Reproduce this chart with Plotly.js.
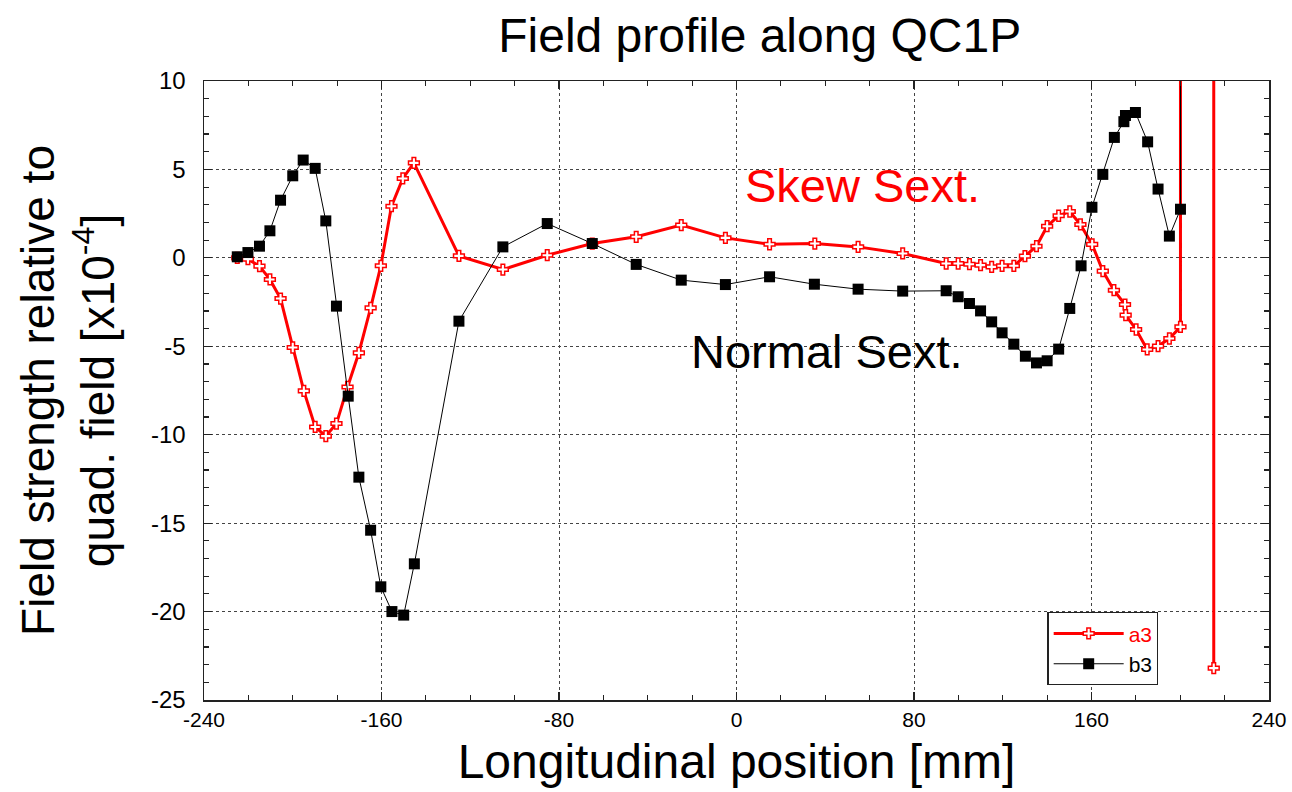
<!DOCTYPE html>
<html>
<head>
<meta charset="utf-8">
<script src="https://cdn.plot.ly/plotly-3.0.1.min.js"></script>
<style>html,body{margin:0;padding:0;background:#fff;}#chart{width:1292px;height:792px;}</style>
</head>
<body>
<div id="chart"></div>
<script>
// a3 : skew sextupole component
const a3X = [-225, -220.2, -215, -210.3, -205.5, -200, -195, -189.9, -185.1, -180.3, -175.3, -170.2, -164.9, -160.3, -155.5, -150.4, -145.4, -125.1, -105.3, -85.3, -65, -45.2, -24.9, -5, 14.9, 35.3, 54.8, 74.9, 94.5, 99.9, 105, 110, 115, 119.7, 125, 130, 135.2, 140, 145.2, 150.2, 155, 160.3, 165.1, 170.1, 175.1, 175.4, 180.1, 185.1, 190, 195.1, 200.1, 200.1, 215.1, 215.1];
const a3Y = [0.0, -0.07, -0.47, -1.22, -2.3, -5.07, -7.52, -9.56, -10.08, -9.37, -7.3, -5.37, -2.83, -0.45, 2.92, 4.49, 5.37, 0.11, -0.66, 0.15, 0.81, 1.19, 1.85, 1.13, 0.77, 0.81, 0.62, 0.25, -0.32, -0.32, -0.36, -0.41, -0.51, -0.45, -0.45, 0.1, 0.66, 1.79, 2.38, 2.62, 1.89, 0.76, -0.75, -1.83, -2.64, -3.24, -4.05, -5.18, -4.99, -4.56, -3.9, 100, 100, -23.2];
// b3 : normal sextupole component
const b3X = [-225, -220.2, -215, -210.3, -205.5, -200, -195.3, -189.9, -185.1, -180.3, -175, -170.2, -164.9, -160.3, -155.3, -150, -145.2, -125.1, -105.3, -85.3, -65, -45.2, -24.9, -5, 14.9, 35.1, 54.8, 74.9, 94.5, 99.9, 105, 110, 115, 119.7, 125, 130.2, 135.2, 140, 145.2, 150.2, 155.3, 160.2, 165.1, 170.3, 174.6, 175.3, 179.8, 185.3, 190, 195.1, 200.1, 200.3];
const b3Y = [0.06, 0.3, 0.66, 1.53, 3.26, 4.64, 5.53, 5.06, 2.09, -2.73, -7.82, -12.4, -15.4, -18.6, -20.0, -20.2, -17.3, -3.58, 0.62, 1.94, 0.81, -0.37, -1.26, -1.51, -1.07, -1.49, -1.77, -1.88, -1.86, -2.2, -2.58, -3.0, -3.62, -4.24, -4.88, -5.56, -5.94, -5.82, -5.16, -2.86, -0.45, 2.86, 4.72, 6.81, 7.7, 8.05, 8.22, 6.56, 3.89, 1.23, 2.75, 100];

const seriesNames = ['a3', 'b3'];
const xTicks = [-240, -160, -80, 0, 80, 160, 240];
const yTicks = [-25, -20, -15, -10, -5, 0, 5, 10];
const labels = ['Skew Sext.', 'Normal Sext.'];
const labelX = [57, 41];
const labelY = [4.1, -5.3];

const FONT = 'Liberation Sans, Arial, Helvetica, sans-serif';

const traces = [
  {
    x: a3X, y: a3Y, name: seriesNames[0], type: 'scatter', mode: 'lines+markers',
    line: {color: '#ff0000', width: 3},
    marker: {symbol: 'cross', size: 9, color: '#ffffff', line: {color: '#ff0000', width: 1.5}}
  },
  {
    x: b3X, y: b3Y, name: seriesNames[1], type: 'scatter', mode: 'lines+markers',
    line: {color: '#000000', width: 1},
    marker: {symbol: 'square', size: 11, color: '#000000', line: {color: '#000000', width: 0}}
  }
];

const axisCommon = {
  showline: true, linecolor: '#222', linewidth: 1.5, mirror: 'allticks',
  ticks: 'inside', ticklen: 8, tickwidth: 1.2, tickcolor: '#222',
  showgrid: true, gridcolor: '#444', gridwidth: 1, griddash: 'dot',
  zeroline: false
};

const layout = {
  width: 1292, height: 792,
  paper_bgcolor: '#ffffff', plot_bgcolor: '#ffffff',
  margin: {l: 204, r: 23, t: 81, b: 92},
  font: {family: FONT, color: '#000'},
  title: {text: 'Field profile along QC1P', font: {family: FONT, size: 48, color: '#000'}, x: 0.588, xanchor: 'center', y: 0.955, yanchor: 'middle'},
  xaxis: Object.assign({}, axisCommon, {
    range: [-240, 240], tickvals: xTicks, ticktext: xTicks.map(String),
    tickfont: {family: FONT, size: 21, color: '#000'},
    minor: {dtick: 20, ticks: 'inside', ticklen: 5, tickcolor: '#222', showgrid: false},
    title: {text: 'Longitudinal position [mm]', font: {family: FONT, size: 48, color: '#000'}, standoff: 14}
  }),
  yaxis: Object.assign({}, axisCommon, {
    range: [-25, 10], tickvals: yTicks, ticktext: yTicks.map(String),
    tickfont: {family: FONT, size: 24, color: '#000'}, ticklabelstandoff: 12,
    minor: {dtick: 1, ticks: 'inside', ticklen: 5, tickcolor: '#222', showgrid: false},
    title: {text: 'Field strength relative to<br>quad. field [x10<sup>-4</sup>]', font: {family: FONT, size: 46, color: '#000'}, standoff: 22}
  }),
  showlegend: true,
  legend: {
    x: 0.792, y: 0.142, xanchor: 'left', yanchor: 'top',
    bgcolor: '#ffffff', bordercolor: '#222', borderwidth: 1.2,
    font: {family: FONT, size: 21, color: '#000'}, itemwidth: 70, tracegroupgap: 0
  },
  annotations: [
    {x: labelX[0], y: labelY[0], xref: 'x', yref: 'y', text: labels[0], showarrow: false, font: {family: FONT, size: 47, color: '#ff0000'}},
    {x: labelX[1], y: labelY[1], xref: 'x', yref: 'y', text: labels[1], showarrow: false, font: {family: FONT, size: 47, color: '#000000'}}
  ]
};

Plotly.newPlot('chart', traces, layout, {displayModeBar: false, staticPlot: true}).then(function(gd){
  const texts = gd.querySelectorAll('.legendtext');
  if (texts[0]) texts[0].style.fill = '#ff0000';
});
</script>
</body>
</html>
